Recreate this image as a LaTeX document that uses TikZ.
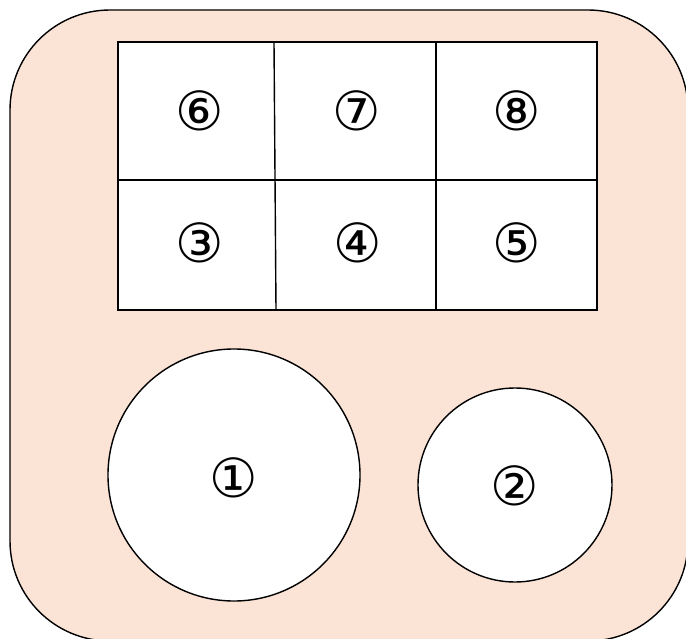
\documentclass[tikz,border=0pt]{standalone}
\usepackage{fontspec}
\newfontfamily\circfont{DejaVu Sans}
\definecolor{bgpink}{HTML}{FBE3D6}
\begin{document}
\begin{tikzpicture}[x=1pt,y=-1pt,
  lbl/.style={font=\circfont\fontsize{54}{54}\selectfont, inner sep=0pt},
  ln/.style={line width=1.4pt},
  disc/.style={circle, draw, ln, fill=white, inner sep=0pt}]
\useasboundingbox (0,0) rectangle (686,639);
\draw[ln, fill=bgpink, rounded corners=100pt] (10,10) rectangle (688,641);
\draw[ln, fill=white] (118,42) rectangle (597,310);
\draw[ln] (118,180) -- (597,180);
\draw[ln] (274,42) -- (276,310);
\draw[ln] (436,42) -- (436,310);
\node[lbl] (n6) at (200,111) {⑥};
\node[lbl] (n7) at (357,111) {⑦};
\node[lbl] (n8) at (517,111) {⑧};
\node[lbl] (n3) at (200,243) {③};
\node[lbl] (n4) at (358,243) {④};
\node[lbl] (n5) at (517,243) {⑤};
\node[disc, minimum size=252pt] (c1) at (234,475) {};
\node[lbl] (n1) at (234,478) {①};
\node[disc, minimum size=194pt] (c2) at (515,485) {};
\node[lbl] (n2) at (515,486) {②};
\end{tikzpicture}
\end{document}
